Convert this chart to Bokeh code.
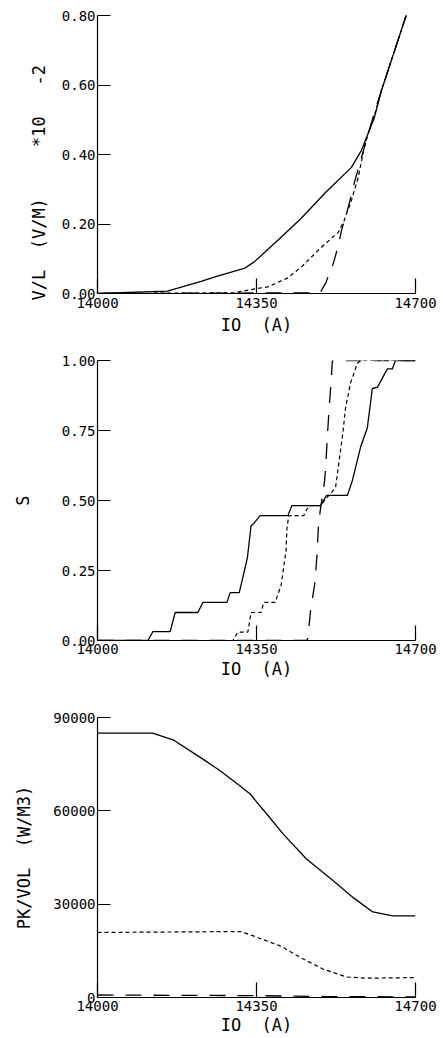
from bokeh.plotting import figure
from bokeh.layouts import column
from bokeh.models import Range1d, FixedTicker, Title
from bokeh.embed import file_html
from bokeh.resources import INLINE

FONT = "DejaVu Sans Mono"
NB = "\u00a0"

# ---------------- shared x axis ----------------
x_ticks = [14000, 14350, 14700]
x_tick_labels = ["14000", "14350", "14700"]
x_title = "IO" + NB + NB + "(A)"

# ---------------- panel 1 : V/L ----------------
vl_ticks = [0.0, 0.2, 0.4, 0.6, 0.8]
vl_tick_labels = ["0.00", "0.20", "0.40", "0.60", "0.80"]
vl_title = "V/L" + NB * 2 + "(V/M)" + NB * 5 + "*10" + NB * 3 + "-2"
vl_solid_x = [14000, 14154, 14228, 14264, 14323, 14345, 14397, 14448, 14503, 14559, 14581, 14609, 14625, 14682]
vl_solid_y = [0.0, 0.007, 0.035, 0.05, 0.072, 0.091, 0.153, 0.216, 0.292, 0.363, 0.412, 0.504, 0.584, 0.81]
vl_short_x = [14000, 14300, 14349, 14375, 14419, 14450, 14492, 14530, 14543, 14559, 14574, 14587, 14603, 14609, 14625, 14682]
vl_short_y = [0.0, 0.002, 0.014, 0.019, 0.045, 0.078, 0.132, 0.176, 0.210, 0.268, 0.334, 0.420, 0.489, 0.51, 0.584, 0.81]
vl_long_x = [14000, 14490, 14503, 14519, 14530, 14537, 14552, 14565, 14581, 14596, 14609, 14625, 14682]
vl_long_y = [0.0, 0.002, 0.032, 0.086, 0.138, 0.181, 0.248, 0.317, 0.391, 0.460, 0.518, 0.584, 0.81]

# ---------------- panel 2 : S ----------------
s_ticks = [0.0, 0.25, 0.5, 0.75, 1.0]
s_tick_labels = ["0.00", "0.25", "0.50", "0.75", "1.00"]
s_title = "S"
s_solid_x = [14000, 14111, 14122, 14160, 14171, 14221, 14232, 14285, 14292, 14312, 14322, 14330, 14338,
             14344, 14358, 14419, 14428, 14491, 14504, 14550, 14561, 14579, 14594, 14605, 14616, 14638,
             14649, 14656, 14700]
s_solid_y = [0.0, 0.0, 0.032, 0.032, 0.10, 0.10, 0.136, 0.136, 0.171, 0.171, 0.24, 0.296, 0.41,
             0.418, 0.446, 0.446, 0.482, 0.482, 0.518, 0.518, 0.571, 0.69, 0.76, 0.90, 0.904, 0.97,
             0.97, 1.0, 1.0]
s_short_x = [14000, 14298, 14309, 14331, 14338, 14360, 14366, 14391, 14404, 14415, 14417, 14421, 14454,
             14465, 14491, 14506, 14524, 14531, 14540, 14546, 14557, 14572, 14579, 14700]
s_short_y = [0.0, 0.0, 0.03, 0.03, 0.10, 0.10, 0.136, 0.136, 0.196, 0.32, 0.40, 0.446, 0.446,
             0.482, 0.482, 0.512, 0.546, 0.63, 0.74, 0.83, 0.92, 0.99, 1.0, 1.0]
s_long_x = [14000, 14460, 14463, 14469, 14478, 14483, 14486, 14490, 14500, 14503, 14506, 14510, 14514, 14517, 14700]
s_long_y = [0.0, 0.0, 0.007, 0.107, 0.20, 0.30, 0.40, 0.46, 0.57, 0.64, 0.73, 0.83, 0.92, 1.0, 1.0]

# ---------------- panel 3 : PK/VOL ----------------
pk_ticks = [0, 30000, 60000, 90000]
pk_tick_labels = ["0", "30000", "60000", "90000"]
pk_title = "PK/VOL" + NB * 2 + "(W/M3)"
pk_solid_x = [14000, 14121, 14168, 14227, 14270, 14314, 14336, 14373, 14409, 14460, 14519, 14563, 14606, 14650, 14700]
pk_solid_y = [85000, 85000, 82700, 77100, 72900, 68000, 65400, 58900, 52500, 44500, 37500, 32100, 27500, 26250, 26250]
pk_short_x = [14000, 14314, 14343, 14402, 14446, 14497, 14548, 14592, 14700]
pk_short_y = [20900, 21200, 19800, 16600, 12900, 9100, 6600, 6200, 6400]
pk_long_x = [14000, 14350, 14500, 14700]
pk_long_y = [800, 600, 300, 200]


def make_panel(y_end, y_ticks, y_labels, y_title, title_standoff, border_top, frame_h, border_bottom,
               x_label_standoff=4, x_title_standoff=4):
    p = figure(frame_width=318, frame_height=frame_h,
               min_border_left=97, min_border_right=26,
               min_border_top=border_top, min_border_bottom=border_bottom,
               x_range=Range1d(14000, 14700), y_range=Range1d(0, y_end),
               output_backend="svg", toolbar_location=None)
    p.outline_line_color = None
    p.xgrid.visible = False
    p.ygrid.visible = False
    p.background_fill_color = "white"
    p.border_fill_color = "white"
    for ax in (p.xaxis[0], p.yaxis[0]):
        ax.axis_line_color = "black"
        ax.axis_line_width = 1.2
        ax.major_tick_line_color = "black"
        ax.major_tick_line_width = 1.2
        ax.major_tick_out = 0
        ax.minor_tick_line_color = None
        ax.major_label_text_font = FONT
        ax.major_label_text_font_size = "14px"
        ax.major_label_text_color = "black"
        ax.axis_label_text_font = FONT
        ax.axis_label_text_font_style = "normal"
        ax.axis_label_text_font_size = "17px"
        ax.axis_label_text_color = "black"
    xa = p.xaxis[0]
    xa.ticker = FixedTicker(ticks=x_ticks)
    xa.major_label_overrides = dict(zip(x_ticks, x_tick_labels))
    xa.major_tick_in = 15
    xa.major_label_standoff = x_label_standoff
    xa.axis_label = x_title
    xa.axis_label_standoff = x_title_standoff
    ya = p.yaxis[0]
    ya.ticker = FixedTicker(ticks=y_ticks)
    ya.major_label_overrides = dict(zip(y_ticks, y_labels))
    ya.major_tick_in = 13
    ya.major_label_standoff = 2
    if y_title:
        ya.axis_label = y_title
        ya.axis_label_standoff = title_standoff
    return p


# panel 1
p1 = make_panel(0.8, vl_ticks, vl_tick_labels, None, 0, 15, 278, 44)
p1.add_layout(Title(text=vl_title, align="left", offset=-7, standoff=19,
                    text_font=FONT, text_font_size="17px", text_font_style="normal",
                    text_color="black"), "left")
p1.line(vl_solid_x, vl_solid_y, line_color="black", line_width=1.3)
p1.line(vl_short_x, vl_short_y, line_color="black", line_width=1.2, line_dash="4 3")
p1.line(vl_long_x, vl_long_y, line_color="black", line_width=1.3, line_dash="16 12")

# panel 2
p2 = make_panel(1.0, s_ticks, s_tick_labels, s_title, 26, 23, 280, 44, 3, 2)
p2.line(s_solid_x, s_solid_y, line_color="black", line_width=1.3)
p2.line(s_short_x, s_short_y, line_color="black", line_width=1.2, line_dash="4 3")
p2.line(s_long_x, s_long_y, line_color="black", line_width=1.3, line_dash="16 12")

# panel 3
p3 = make_panel(90000, pk_ticks, pk_tick_labels, pk_title, 16, 33, 280, 40, 3, 1)
p3.line(pk_solid_x, pk_solid_y, line_color="black", line_width=1.3)
p3.line(pk_short_x, pk_short_y, line_color="black", line_width=1.2, line_dash="4 3")
p3.line(pk_long_x, pk_long_y, line_color="black", line_width=1.3, line_dash="16 12")

layout = column(p1, p2, p3)
open("out.html", "w").write(file_html(layout, INLINE))
